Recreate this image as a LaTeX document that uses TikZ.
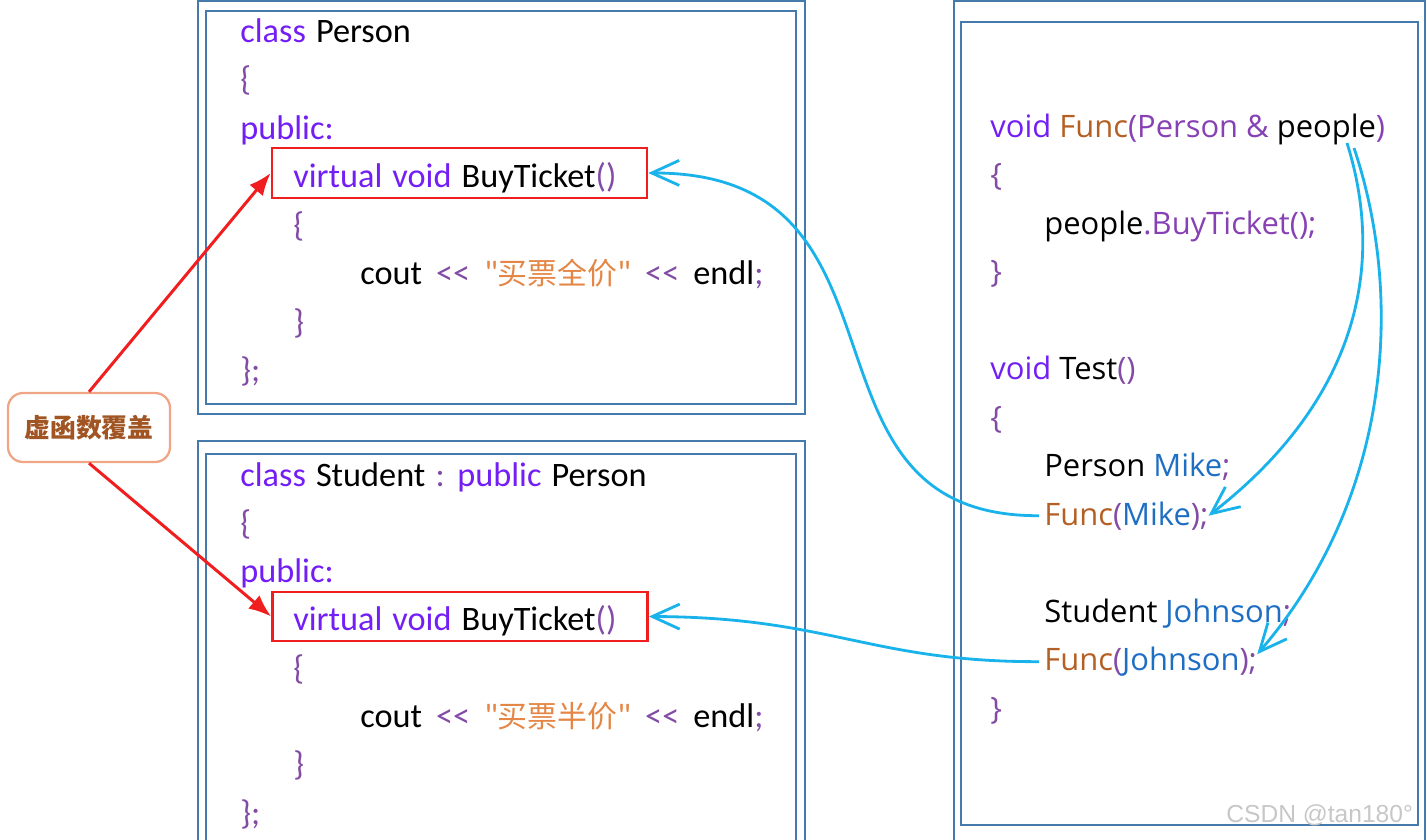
\documentclass[tikz,border=0pt]{standalone}
\usepackage{fontspec}
\usetikzlibrary{arrows.meta}
\newfontfamily\leftfont[WordSpace=1.3]{Carlito}
\newfontfamily\rightfont{Open Sans}
\newfontfamily\cjk{Noto Sans CJK SC}
\newfontfamily\wmfont{Liberation Sans}
\definecolor{boxc}{RGB}{70,122,172}
\definecolor{redc}{RGB}{240,30,30}
\definecolor{callc}{RGB}{240,165,135}
\definecolor{callt}{RGB}{160,85,35}
\definecolor{bluec}{RGB}{25,178,235}
\definecolor{kwc}{RGB}{115,30,245}
\definecolor{pnc}{RGB}{130,75,165}
\definecolor{mbc}{RGB}{135,65,180}
\definecolor{strc}{RGB}{228,135,70}
\definecolor{fnc}{RGB}{180,95,35}
\definecolor{varc}{RGB}{30,110,195}
\newcommand{\ckw}[1]{\textcolor{kwc}{#1}}
\newcommand{\cpn}[1]{\textcolor{pnc}{#1}}
\newcommand{\cmb}[1]{\textcolor{mbc}{#1}}
\newcommand{\cstr}[1]{\textcolor{strc}{#1}}
\newcommand{\cfn}[1]{\textcolor{fnc}{#1}}
\newcommand{\cvar}[1]{\textcolor{varc}{#1}}
\newcommand{\zh}[1]{{\cjk\fontsize{17}{17}\selectfont #1}}
\newcommand{\cg}{\hspace{2.8mm}}
\begin{document}
\begin{tikzpicture}[x=0.2mm,y=-0.2mm,
    boxline/.style={draw=boxc,line width=1.6pt},
    redbox/.style={draw=redc,line width=1.5pt,minimum width=75mm,minimum height=10mm,inner sep=0pt},
    callout/.style={draw=callc,line width=1.3pt,rounded corners=3mm,fill=white,
      minimum width=32.4mm,minimum height=13.8mm,text=callt,font=\cjk\bfseries\fontsize{14.7}{15}\selectfont},
    redarrow/.style={draw=redc,line width=1.7pt,-{Latex[length=4.5mm,width=3.5mm]}},
    bluearrow/.style={draw=bluec,line width=1.6pt,-{Straight Barb[length=5.5mm,width=5mm]}},
    code/.style={anchor=base west,inner sep=0pt}]
  \clip (0,0) rectangle (1428,839);
  \draw[boxline] (198,1) rectangle (805,414);
  \draw[boxline] (206,11) rectangle (796,404);
  \draw[boxline] (198,441) rectangle (805,870);
  \draw[boxline] (206,454) rectangle (796,870);
  \draw[boxline] (954,1) rectangle (1425,870);
  \draw[boxline] (961,22) rectangle (1418,825);
  \node[redbox] (bp) at (459.5,173) {};
  \node[redbox,minimum height=9.8mm] (bs) at (460,616.5) {};
  \begin{scope}[every node/.style={code,font=\leftfont\fontsize{19.5}{20}\selectfont}]
    \node (p0) at (240,42) {\ckw{class} Person};
    \node (p1) at (240,90.5) {\cpn{\{}};
    \node (p2) at (240,139) {\ckw{public:}};
    \node (p3) at (293,187.5) {\ckw{virtual void} BuyTicket\cpn{()}};
    \node (p4) at (293,236) {\cpn{\{}};
    \node (p5) at (360,284.5) {cout\cg\cpn{<<}\cg\cstr{"\zh{买票全价}"}\cg\cpn{<<}\cg endl\cpn{;}};
    \node (p6) at (293,333) {\cpn{\}}};
    \node (p7) at (240,381.5) {\cpn{\};}};
    \node (s0) at (240,486) {\ckw{class} Student \cpn{:} \ckw{public} Person};
    \node (s1) at (240,534.3) {\cpn{\{}};
    \node (s2) at (240,582.6) {\ckw{public:}};
    \node (s3) at (293,630.9) {\ckw{virtual void} BuyTicket\cpn{()}};
    \node (s4) at (293,679.2) {\cpn{\{}};
    \node (s5) at (360,727.5) {cout\cg\cpn{<<}\cg\cstr{"\zh{买票半价}"}\cg\cpn{<<}\cg endl\cpn{;}};
    \node (s6) at (293,775.8) {\cpn{\}}};
    \node (s7) at (240,824.1) {\cpn{\};}};
  \end{scope}
  \begin{scope}[every node/.style={code,font=\rightfont\fontsize{17.6}{18}\selectfont}]
    \node (f0) at (990,137) {\ckw{void} \cfn{Func}\cmb{(Person \&} people\cmb{)}};
    \node (f1) at (990,185.5) {\cpn{\{}};
    \node (f2) at (1044,234) {people\cmb{.BuyTicket();}};
    \node (f3) at (990,282.5) {\cpn{\}}};
    \node (t0) at (990,379.5) {\ckw{void} Test\cpn{()}};
    \node (t1) at (990,428) {\cpn{\{}};
    \node (pm) at (1044,476.5) {Person \cvar{Mike}\cpn{;}};
    \node (fm) at (1044,525) {\cfn{Func}\cpn{(}\cvar{Mike}\cpn{);}};
    \node (sj) at (1044,622) {Student \cvar{Johnson}\cpn{;}};
    \node (fj) at (1044,670.5) {\cfn{Func}\cpn{(}\cvar{Johnson}\cpn{);}};
    \node (t2) at (990,719) {\cpn{\}}};
  \end{scope}
  \node[callout] (ov) at (89,427.5) {虚函数覆盖};
  \draw[redarrow] (ov.north) -- (bp.west);
  \draw[redarrow] (ov.south) -- (bs.west);
  \coordinate (pa) at (1347,143);
  \coordinate (pb) at (1354,148);
  \draw[bluearrow] ([xshift=-1mm]fm.west) .. controls (780,517) and (930,172) .. (bp.east);
  \draw[bluearrow] ([xshift=-1mm]fj.west) .. controls (870,662) and (830,617) .. (bs.east);
  \draw[bluearrow] (pa) .. controls (1390,280) and (1345,410) .. (fm.east);
  \draw[bluearrow] (pb) .. controls (1405,300) and (1390,500) .. ([yshift=1.5mm]fj.east);
  \node[code,text=black!22,font=\wmfont\fontsize{14}{14}\selectfont] (wm) at (1226,822) {CSDN @tan180°};
\end{tikzpicture}
\end{document}
